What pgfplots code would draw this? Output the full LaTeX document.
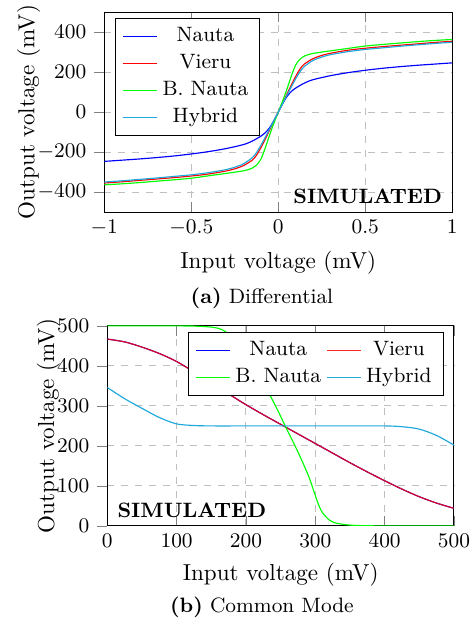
\documentclass[border=0pt]{standalone}
\usepackage{pgfplots}
\pgfplotsset{compat=1.18}
\definecolor{hyb}{RGB}{30,168,220}
\begin{document}
\begin{tikzpicture}
\useasboundingbox (0,0) rectangle (204.8pt,270.6pt);
\pgfplotsset{
  every axis/.append style={
    scale only axis,
    anchor=south west,
    grid=major,
    major grid style={dashed, gray!50},
    tick label style={font=\small},
    legend style={font=\small},
    legend cell align=center,
    legend image code/.code={\draw[#1, line width=0.7pt] (0cm,0cm) -- (0.52cm,0cm);},
    ylabel={Output voltage (mV)},
    xlabel={Input voltage (mV)},
    ylabel style={yshift=-8pt},
    ytick align=outside, ytick pos=left,
    every axis plot/.append style={line width=0.5pt},
  },
}
\begin{axis}[at={(45.15pt,178.7pt)}, width=150.65pt, height=86.7pt,
  xmin=-1, xmax=1, ymin=-500, ymax=500,
  xtick={-1,-0.5,0,0.5,1}, ytick={-400,-200,0,200,400},
  legend pos=north west]
\addplot[blue, smooth] coordinates {
(-1,-246) (-0.9,-240) (-0.8,-234) (-0.7,-227) (-0.6,-219) (-0.5,-209) (-0.4,-197) (-0.3,-182) (-0.2,-162) (-0.15,-145) (-0.1,-120) (-0.075,-103) (-0.05,-78) (-0.025,-42)
(0,0) (0.025,42) (0.05,78) (0.075,103) (0.1,120) (0.15,145) (0.2,162) (0.3,182) (0.4,197) (0.5,209) (0.6,219) (0.7,227) (0.8,234) (0.9,240) (1,246)};
\addlegendentry{Nauta}
\addplot[red, smooth] coordinates {
(-1,-354) (-0.9,-348) (-0.8,-341) (-0.7,-334) (-0.6,-327) (-0.5,-319) (-0.4,-309) (-0.3,-294) (-0.25,-283) (-0.2,-267) (-0.15,-240) (-0.125,-215) (-0.1,-178) (-0.075,-135) (-0.05,-90) (-0.025,-45)
(0,0) (0.025,45) (0.05,90) (0.075,135) (0.1,178) (0.125,215) (0.15,240) (0.2,267) (0.25,283) (0.3,294) (0.4,309) (0.5,319) (0.6,327) (0.7,334) (0.8,341) (0.9,348) (1,354)};
\addlegendentry{Vieru}
\addplot[green, smooth] coordinates {
(-1,-363) (-0.9,-358) (-0.8,-352) (-0.7,-345) (-0.6,-338) (-0.5,-330) (-0.4,-318) (-0.3,-306) (-0.2,-293) (-0.15,-280) (-0.125,-265) (-0.1,-235) (-0.075,-180) (-0.05,-115) (-0.025,-55)
(0,0) (0.025,55) (0.05,115) (0.075,180) (0.1,235) (0.125,265) (0.15,280) (0.2,293) (0.3,306) (0.4,318) (0.5,330) (0.6,338) (0.7,345) (0.8,352) (0.9,358) (1,363)};
\addlegendentry{B. Nauta}
\addplot[hyb, smooth] coordinates {
(-1,-349) (-0.9,-343) (-0.8,-336) (-0.7,-329) (-0.6,-321) (-0.5,-313) (-0.4,-302) (-0.3,-287) (-0.25,-275) (-0.2,-258) (-0.15,-228) (-0.125,-202) (-0.1,-166) (-0.075,-126) (-0.05,-84) (-0.025,-42)
(0,0) (0.025,42) (0.05,84) (0.075,126) (0.1,166) (0.125,202) (0.15,228) (0.2,258) (0.25,275) (0.3,287) (0.4,302) (0.5,313) (0.6,321) (0.7,329) (0.8,336) (0.9,343) (1,349)};
\addlegendentry{Hybrid}
\node[anchor=south east, font=\small\bfseries, inner sep=2pt] at (rel axis cs:0.985,0.015) {SIMULATED};
\end{axis}
\begin{axis}[at={(46.45pt,42.9pt)}, width=150.1pt, height=86.6pt,
  xmin=0, xmax=500, ymin=0, ymax=500,
  xtick={0,100,200,300,400,500}, ytick={0,100,200,300,400,500},
  legend pos=north east, legend columns=2]
\addplot[blue, smooth] coordinates {
(0,467) (25,460) (50,447) (75,431) (100,411) (125,385) (150,358) (175,330) (200,303) (225,278) (250,254) (275,230) (300,206) (325,182) (350,158) (375,135) (400,113) (425,92) (450,73) (475,57) (500,44)};
\addlegendentry{Nauta}
\addplot[red, opacity=0.85, smooth] coordinates {
(0,467) (25,460) (50,447) (75,431) (100,411) (125,385) (150,358) (175,330) (200,303) (225,278) (250,254) (275,230) (300,206) (325,182) (350,158) (375,135) (400,113) (425,92) (450,73) (475,57) (500,44)};
\addlegendentry{Vieru}
\addplot[green, smooth] coordinates {
(0,500) (50,500) (100,500) (125,499.5) (150,497) (165,491) (180,472) (200,432) (215,392) (230,342) (245,292) (256,252) (270,203) (280,166) (290,126) (295,102) (300,76) (305,52) (310,34) (320,15) (330,7) (350,2) (375,0.5) (400,0) (450,0) (500,0)};
\addlegendentry{B. Nauta}
\addplot[hyb, smooth] coordinates {
(0,346) (25,318) (50,294) (75,271) (100,255) (125,251) (150,250) (200,250) (250,250) (300,250) (350,250) (400,250) (425,248) (450,242) (475,226) (500,202)};
\addlegendentry{Hybrid}
\node[anchor=south west, font=\small\bfseries, inner sep=2pt] at (rel axis cs:0.015,0.015) {SIMULATED};
\end{axis}
\node[font=\small] at (113.4pt,141.6pt) {\textbf{(a)} Differential};
\node[font=\small] at (113.4pt,7.8pt) {\textbf{(b)} Common Mode};
\end{tikzpicture}
\end{document}
